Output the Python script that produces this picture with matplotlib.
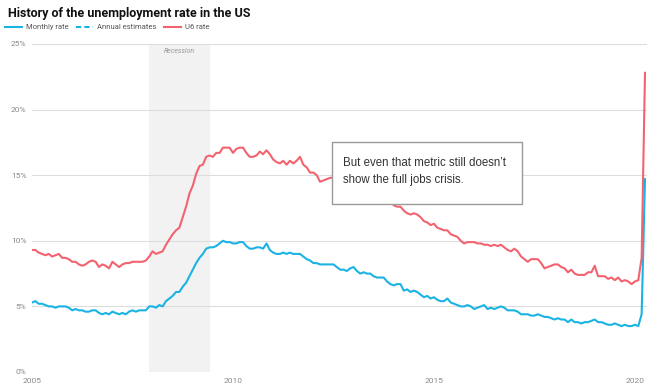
import matplotlib.pyplot as plt
from matplotlib.lines import Line2D
from matplotlib.patches import Rectangle
import numpy as np

# monthly values, Jan 2005 .. Apr 2020
MONTHLY_RATE = [
    5.3, 5.4, 5.2, 5.2, 5.1, 5.0, 5.0, 4.9, 5.0, 5.0, 5.0, 4.9,
    4.7, 4.8, 4.7, 4.7, 4.6, 4.6, 4.7, 4.7, 4.5, 4.4, 4.5, 4.4,
    4.6, 4.5, 4.4, 4.5, 4.4, 4.6, 4.7, 4.6, 4.7, 4.7, 4.7, 5.0,
    5.0, 4.9, 5.1, 5.0, 5.4, 5.6, 5.8, 6.1, 6.1, 6.5, 6.8, 7.3,
    7.8, 8.3, 8.7, 9.0, 9.4, 9.5, 9.5, 9.6, 9.8, 10.0, 9.9, 9.9,
    9.8, 9.8, 9.9, 9.9, 9.6, 9.4, 9.4, 9.5, 9.5, 9.4, 9.8, 9.3,
    9.1, 9.0, 9.0, 9.1, 9.0, 9.1, 9.0, 9.0, 9.0, 8.8, 8.6, 8.5,
    8.3, 8.3, 8.2, 8.2, 8.2, 8.2, 8.2, 8.0, 7.8, 7.8, 7.7, 7.9,
    8.0, 7.7, 7.5, 7.6, 7.5, 7.5, 7.3, 7.2, 7.2, 7.2, 6.9, 6.7,
    6.6, 6.7, 6.7, 6.2, 6.3, 6.1, 6.2, 6.1, 5.9, 5.7, 5.8, 5.6,
    5.7, 5.5, 5.4, 5.4, 5.6, 5.3, 5.2, 5.1, 5.0, 5.0, 5.1, 5.0,
    4.8, 4.9, 5.0, 5.1, 4.8, 4.9, 4.8, 4.9, 5.0, 4.9, 4.7, 4.7,
    4.7, 4.6, 4.4, 4.4, 4.4, 4.3, 4.3, 4.4, 4.3, 4.2, 4.2, 4.1,
    4.0, 4.1, 4.0, 4.0, 3.8, 4.0, 3.8, 3.8, 3.7, 3.8, 3.8, 3.9,
    4.0, 3.8, 3.8, 3.7, 3.6, 3.6, 3.7, 3.6, 3.5, 3.6, 3.5, 3.5,
    3.6, 3.5, 4.4, 14.7,
]

U6_RATE = [
    9.3, 9.3, 9.1, 9.0, 8.9, 9.0, 8.8, 8.9, 9.0, 8.7, 8.7, 8.6,
    8.4, 8.4, 8.2, 8.1, 8.2, 8.4, 8.5, 8.4, 8.0, 8.2, 8.1, 7.9,
    8.4, 8.2, 8.0, 8.2, 8.3, 8.3, 8.4, 8.4, 8.4, 8.4, 8.5, 8.8,
    9.2, 9.0, 9.1, 9.2, 9.7, 10.1, 10.5, 10.8, 11.0, 11.8, 12.6, 13.6,
    14.2, 15.1, 15.7, 15.8, 16.4, 16.5, 16.4, 16.7, 16.7, 17.1, 17.1, 17.1,
    16.7, 17.0, 17.1, 17.1, 16.7, 16.4, 16.4, 16.5, 16.8, 16.6, 16.9, 16.6,
    16.2, 16.0, 15.9, 16.1, 15.8, 16.1, 15.9, 16.1, 16.4, 15.8, 15.6, 15.2,
    15.2, 15.0, 14.5, 14.6, 14.7, 14.8, 14.8, 14.6, 14.7, 14.4, 14.4, 14.4,
    14.5, 14.3, 13.8, 13.9, 13.8, 14.2, 13.8, 13.6, 13.6, 13.7, 13.1, 13.1,
    12.7, 12.6, 12.6, 12.3, 12.1, 12.0, 12.1, 12.0, 11.8, 11.5, 11.4, 11.2,
    11.3, 11.0, 10.9, 10.8, 10.8, 10.5, 10.4, 10.3, 10.0, 9.8, 9.9, 9.9,
    9.9, 9.8, 9.8, 9.7, 9.7, 9.6, 9.7, 9.6, 9.7, 9.5, 9.3, 9.2,
    9.4, 9.2, 8.8, 8.6, 8.4, 8.6, 8.6, 8.6, 8.3, 7.9, 8.0, 8.1,
    8.2, 8.2, 8.0, 7.9, 7.6, 7.8, 7.5, 7.4, 7.4, 7.4, 7.6, 7.6,
    8.1, 7.3, 7.3, 7.3, 7.1, 7.2, 7.0, 7.2, 6.9, 7.0, 6.9, 6.7,
    6.9, 7.0, 8.7, 22.8,
]

START_YEAR = 2005
RECESSION = (2007 + 11 / 12, 2009 + 5 / 12)
X_TICKS = [2005, 2010, 2015, 2020]
Y_TICKS = [0, 5, 10, 15, 20, 25]

BLUE = "#1ab3e3"
RED = "#f2636f"
GREY_TXT = "#8a8a8a"

months = START_YEAR + np.arange(len(MONTHLY_RATE)) / 12

plt.rcParams["font.family"] = ["Roboto", "DejaVu Sans"]

fig = plt.figure(figsize=(6.63, 3.92), dpi=100)
ax = fig.add_axes([32 / 663, 1 - 372 / 392, 615 / 663, 328 / 392])

ax.axvspan(*RECESSION, color="#f2f2f2", lw=0, zorder=0)
ax.text(sum(RECESSION) / 2, 24.5, "Recession", ha="center", va="center",
        fontsize=5, style="italic", color="#999999")

for y in Y_TICKS:
    ax.axhline(y, color="#dddddd", lw=0.8, zorder=1)

ax.plot(months, MONTHLY_RATE, color=BLUE, lw=1.5, zorder=3)
ax.plot(months, U6_RATE, color=RED, lw=1.5, zorder=3)

# annotation box
ax.add_patch(Rectangle((2012.46, 12.8), 4.73, 4.73, fc="white", ec="#9a9a9a",
                       lw=1, zorder=5))
ax.text(2012.73, 15.3, "But even that metric still doesn\u2019t\nshow the full jobs crisis.",
        fontsize=8.3, color="#333333", va="center", ha="left", linespacing=1.6,
        family="Liberation Sans", zorder=6)

ax.set_xlim(START_YEAR, 2020.3)
ax.set_ylim(0, 25)
ax.set_xticks(X_TICKS)
ax.set_xticklabels([str(x) for x in X_TICKS])
ax.set_yticks(Y_TICKS)
ax.set_yticklabels([f"{y}%" for y in Y_TICKS])
ax.tick_params(length=0, labelsize=6, colors=GREY_TXT, pad=4)
for s in ax.spines.values():
    s.set_visible(False)

fig.text(8 / 663, 1 - 13 / 392, "History of the unemployment rate in the US",
         fontsize=9, fontweight="bold", color="#111111", va="center")

handles = [
    Line2D([], [], color=BLUE, lw=1.5),
    Line2D([], [], color=BLUE, lw=1.5, ls=(0, (2.5, 1.5))),
    Line2D([], [], color=RED, lw=1.5),
]
fig.legend(handles, ["Monthly rate", "Annual estimates", "U6 rate"],
           loc="center left", bbox_to_anchor=(2 / 663, 1 - 27 / 392), ncol=3,
           frameon=False, fontsize=5.5, labelcolor="#555555",
           handlelength=2.2, handletextpad=0.6, columnspacing=0.9,
           borderaxespad=0, borderpad=0.4)

fig.savefig("out.png", dpi=100)
